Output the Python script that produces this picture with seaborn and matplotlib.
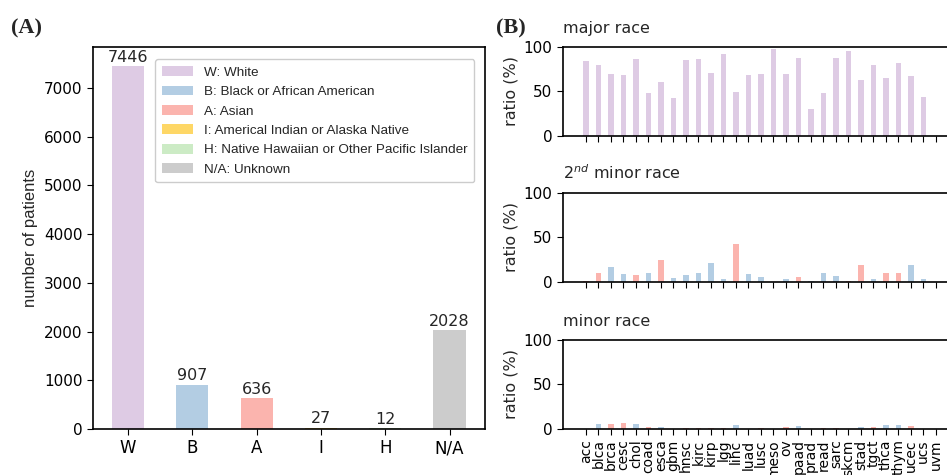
import matplotlib
matplotlib.use("Agg")
import matplotlib.pyplot as plt
from matplotlib.patches import Patch
import seaborn as sns
import pandas as pd

# ---- patient counts per race (panel A) ----
race_codes = ["W", "B", "A", "I", "H", "N/A"]
race_names = [
    "W: White",
    "B: Black or African American",
    "A: Asian",
    "I: Americal Indian or Alaska Native",
    "H: Native Hawaiian or Other Pacific Islander",
    "N/A: Unknown",
]
race_counts = [7446, 907, 636, 27, 12, 2028]
race_colors = ["#decbe4", "#b3cde3", "#fbb4ae", "#fed766", "#ccebc5", "#cccccc"]

# ---- per-cancer race ratios (panel B) ----
cancers = ["acc", "blca", "brca", "cesc", "chol", "coad", "esca", "gbm", "hnsc",
           "kirc", "kirp", "lgg", "lihc", "luad", "lusc", "meso", "ov", "paad",
           "prad", "read", "sarc", "skcm", "stad", "tgct", "thca", "thym",
           "ucec", "ucs", "uvm"]

major_ratio = [84, 79, 69, 68, 86, 48, 61, 43, 85, 86, 70, 92, 49, 68, 69, 97,
               69, 87, 30, 48, 87, 95, 63, 79, 65, 82, 67, 44, 0]
major_race = ["W"] * len(cancers)

second_ratio = [1.5, 10, 16.5, 9, 8, 10, 25, 4.5, 8.3, 10, 21, 3.4, 43, 8.6,
                5.3, 0, 4, 5.6, 0.8, 10, 6.4, 1.5, 19.5, 3.4, 10, 10, 19.5, 3, 0]
second_race = ["A", "A", "B", "B", "A", "B", "A", "B", "B", "B", "B", "B", "A", "B",
               "B", "B", "B", "A", "B", "B", "B", "A", "A", "B", "A", "A", "B", "B", "B"]

minor_ratio = [0, 5.6, 5.6, 7, 5.6, 2, 2.6, 0, 1.5, 1, 1.7, 1, 4.8, 0.5,
               1, 0, 2.6, 3.3, 0, 1, 1.5, 0, 2.2, 2, 4.8, 4.8, 3.3, 0, 0]
minor_race = ["B", "B", "A", "A", "B", "A", "B", "B", "A", "A", "A", "A", "B", "A",
              "A", "A", "A", "B", "A", "A", "A", "A", "B", "A", "B", "B", "A", "A", "A"]

color_of = dict(zip(race_codes, race_colors))

sns.set_style("ticks")
plt.rcParams["font.family"] = ["DejaVu Sans"]
plt.rcParams["axes.edgecolor"] = "black"
plt.rcParams["axes.linewidth"] = 1.2
plt.rcParams["xtick.color"] = "black"
plt.rcParams["ytick.color"] = "black"

fig = plt.figure(figsize=(9.47, 4.75), dpi=100)

# ---------------- panel A ----------------
axA = fig.add_axes([0.098, 0.097, 0.414, 0.804])
dfA = pd.DataFrame({"race": race_codes, "count": race_counts})
sns.barplot(data=dfA, x="race", y="count", hue="race", order=race_codes,
            hue_order=race_codes, palette=color_of, width=0.5, legend=False,
            saturation=1, edgecolor="none", linewidth=0, ax=axA)
for cont in axA.containers:
    axA.bar_label(cont, fontsize=11.5, padding=1)
axA.set_xlim(-0.55, 5.55)
axA.set_ylim(0, 7840)
axA.set_yticks(range(0, 8000, 1000))
axA.set_xlabel("")
axA.set_ylabel("number of patients", fontsize=12, family=["Liberation Sans"])
axA.tick_params(axis="y", labelsize=11, length=4)
axA.tick_params(axis="x", labelsize=12, length=4)
handles = [Patch(facecolor=c, edgecolor="none") for c in race_colors]
axA.legend(handles, race_names, loc="upper right", bbox_to_anchor=(0.99, 0.985),
           prop={"family": "Liberation Sans", "size": 9.7},
           handlelength=2.3, handleheight=0.75, labelspacing=0.5,
           borderpad=0.5, framealpha=1)

fig.text(0.012, 0.93, "(A)", fontsize=16, fontweight="bold",
         family=["Liberation Serif"])
fig.text(0.524, 0.93, "(B)", fontsize=16, fontweight="bold",
         family=["Liberation Serif"])

# ---------------- panel B ----------------
panels = [
    (0.7137, major_ratio, major_race, "major race"),
    (0.406, second_ratio, second_race, "$2^{nd}$ minor race"),
    (0.0968, minor_ratio, minor_race, "minor race"),
]
for i, (bottom, vals, races, title) in enumerate(panels):
    ax = fig.add_axes([0.5945, bottom, 0.418, 0.188])
    df = pd.DataFrame({"cancer": cancers, "ratio": vals})
    bar_colors = [color_of[r] for r in races]
    sns.barplot(data=df, x="cancer", y="ratio", hue="cancer", order=cancers,
                hue_order=cancers, palette=bar_colors, width=0.45,
                legend=False, saturation=1, edgecolor="none", linewidth=0,
                ax=ax)
    ax.set_xlim(-1.84, len(cancers) - 1 + 1.84)
    ax.set_ylim(0, 100)
    ax.set_yticks([0, 50, 100])
    ax.set_xlabel("")
    ax.set_ylabel("ratio (%)", fontsize=11.5)
    ax.set_title(title, loc="left", fontsize=11.5, pad=10)
    ax.tick_params(axis="y", labelsize=11, length=4)
    ax.tick_params(axis="x", labelsize=10, length=4, rotation=90)
    if i < 2:
        ax.tick_params(axis="x", labelbottom=False)

fig.savefig("out.png", dpi=100)
